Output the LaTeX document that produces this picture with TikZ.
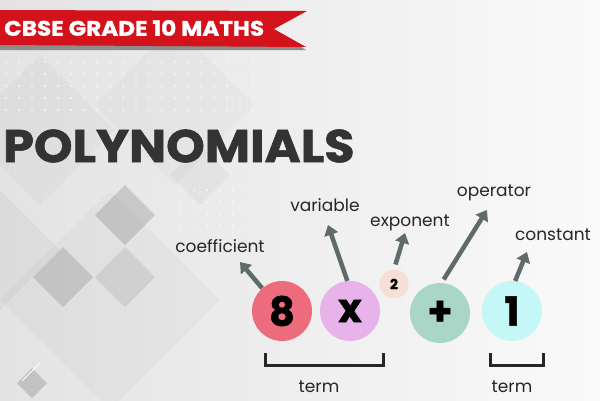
\documentclass[tikz,border=0pt]{standalone}
\usepackage{fontspec}
\setmainfont{Poppins}
\newfontfamily\heavyfont{Poppins}[BoldFeatures={FakeBold=1.2}]
\usetikzlibrary{positioning,arrows.meta,calc}
\definecolor{ribbonred}{HTML}{D3121C}
\definecolor{arrowgray}{HTML}{5E6B68}
\definecolor{coefcol}{HTML}{EC6C7E}
\definecolor{varcol}{HTML}{E8B2EA}
\definecolor{expocol}{HTML}{F6E0D6}
\definecolor{opercol}{HTML}{A9D6C7}
\definecolor{constcol}{HTML}{C6F7F7}
\definecolor{titlegray}{HTML}{333333}
\tikzset{
  part/.style={circle, minimum size=60pt, inner sep=0pt,
    font=\heavyfont\bfseries\fontsize{40}{40}\selectfont},
  tag/.style={font=\fontsize{17}{20}\selectfont, text=black!85, inner sep=0pt},
  pointer/.style={draw=arrowgray, line width=4.5pt,
    -{Triangle[length=10pt,width=14pt]}},
  brace/.style={draw=black!85, line width=3pt},
  tile/.style={fill=black, fill opacity=#1}
}

\begin{document}
\begin{tikzpicture}[x=1pt, y=-1pt]

%% background
\useasboundingbox (0,0) rectangle (600,400);
\fill[left color=black!11, right color=black!2] (0,0) rectangle (600,400);

% diamond tiles: centre x / centre y / half diagonal / opacity
\foreach \cx/\cy/\h/\op in {40/130/75/0.025, 175/105/80/0.02, 110/300/110/0.025,
    0/250/60/0.03, 125/215/30/0.13, 63/277/30/0.12, 125/277/30/0.08,
    200/175/30/0.03, 32/383/15/0.15}
  \fill[tile=\op] (\cx-\h,\cy) -- (\cx,\cy-\h) -- (\cx+\h,\cy) -- (\cx,\cy+\h) -- cycle;
\draw[white, line width=1pt] (22,381) -- (40,363);

% dot grid
\foreach \i in {0,...,19}
  \foreach \j in {0,...,4}
    \fill[white, opacity=0.7] (6+13*\i, 62+12*\j) circle (1.1pt);
\foreach \i in {0,...,6}
  \foreach \j in {0,...,3}
    \fill[white, opacity=0.7] (168+13*\i, 190+12*\j) circle (1.1pt);

%% ribbon
\fill[black!45] (0,44) -- (296,44) -- (306,50) -- (0,50) -- cycle;
\fill[ribbonred] (0,10) -- (307,11) -- (274,29) -- (306,47) -- (0,45) -- cycle;
\node[anchor=west, inner sep=0pt, text=white,
  font=\heavyfont\bfseries\fontsize{21}{21}\selectfont] (grade) at (4,28)
  {\scalebox{1.1}[1]{CBSE GRADE 10 MATHS}};

%% title
\node[anchor=west, inner sep=0pt, text=titlegray,
  font=\heavyfont\bfseries\fontsize{46}{46}\selectfont] (title) at (3,146)
  {\scalebox{1.07}[1]{POLYNOMIALS}};

%% parts of the polynomial
\node[part, fill=coefcol]  (coef)  at (282,311) {8};
\node[part, fill=varcol]   (var)   at (350,311) {x};
\node[part, fill=expocol, minimum size=29pt,
  font=\heavyfont\bfseries\fontsize{14}{14}\selectfont] (expo) at (394,284) {2};
\node[part, fill=opercol]  (oper)  at (440,313) {+};
\node[part, fill=constcol] (const) at (512,311) {1};

% labels
\node[tag] (coefl)  at (220,246) {coefficient};
\node[tag] (varl)   at (325,205) {variable};
\node[tag] (expol)  at (410,223) {exponent};
\node[tag] (operl)  at (494,193) {operator};
\node[tag] (constl) at (553,235) {constant};

% arrow tips
\coordinate (coeftip)  at (240,262);
\coordinate (vartip)   at (328,225);
\coordinate (expotip)  at (405,233);
\coordinate (opertip)  at (487,210);
\coordinate (consttip) at (527,252);

\draw[pointer] (coef.131) -- (coeftip);
\draw[pointer] (var.95) -- (vartip);
\draw[pointer, shorten <=5pt] (expo.north) -- (expotip);
\draw[pointer, shorten <=4pt] (oper.87) -- (opertip);
\draw[pointer] (const.84) -- (consttip);

% terms
\draw[brace] ([shift={(-17,42)}]coef.center) -- ++(0,12) -| ([shift={(33,42)}]var.center);
\draw[brace] ([shift={(-22,42)}]const.center) -- ++(0,12) -| ([shift={(31,42)}]const.center);
\node[tag] (terma) at (319,387) {term};
\node[tag] (termb) at (512,387) {term};

\end{tikzpicture}
\end{document}
